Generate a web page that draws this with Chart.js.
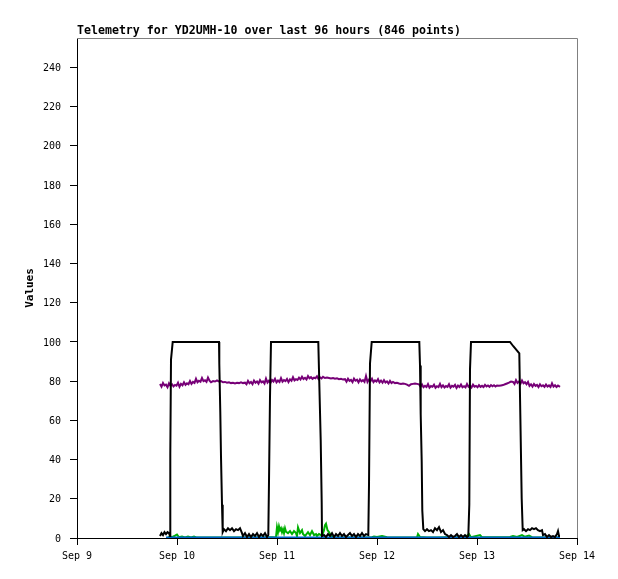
<!DOCTYPE html>
<html><head><meta charset="utf-8">
<script src="https://cdn.jsdelivr.net/npm/chart.js@4/dist/chart.umd.min.js"></script>
<style>html,body{margin:0;padding:0;background:#fff}canvas{display:block}</style>
</head><body><canvas id="c" width="618" height="579"></canvas>
<script>
// x = days since Sep 9 00:00
const xTickLabels = ['Sep 9','Sep 10','Sep 11','Sep 12','Sep 13','Sep 14'];
const xTickDays = [0,1,2,3,4,5];
const yTicks = [0,20,40,60,80,100,120,140,160,180,200,220,240];

const blackSeries = [[0.83,1],[0.845,2.5],[0.86,1.5],[0.875,3],[0.89,2],[0.905,3],[0.92,2.5],[0.93,1],[0.933,43],[0.94,91],[0.957,100],
[1.42,100],[1.423,89],[1.433,64],[1.44,41.5],[1.45,17],[1.457,3],[1.47,4.5],[1.49,3.5],[1.51,5],[1.53,4],[1.55,5],[1.57,3.5],[1.59,4.5],[1.61,4],[1.63,5],[1.65,2.5],[1.66,1],[1.68,2.5],[1.70,0.5],[1.72,2],[1.74,0.5],[1.76,2],[1.78,1],[1.80,2.5],[1.82,0.5],[1.84,2],[1.86,1],[1.88,2.5],[1.90,0.5],[1.913,1.5],[1.92,29],[1.93,72],[1.94,100],
[2.413,100],[2.423,79],[2.437,50],[2.447,18],[2.45,1],[2.47,1.5],[2.49,0.5],[2.51,2],[2.53,1],[2.55,2.5],[2.57,0.5],[2.59,2],[2.61,1],[2.63,2.5],[2.65,1],[2.67,2],[2.69,0.5],[2.71,1.5],[2.73,2.5],[2.75,1],[2.77,2],[2.79,0.5],[2.81,2],[2.83,1],[2.85,2.5],[2.87,1],[2.89,2],[2.913,1.5],[2.92,27],[2.93,89],[2.947,100],
[3.423,100],[3.43,88],[3.437,63],[3.447,39],[3.453,14],[3.463,4.5],[3.48,3.5],[3.50,4.5],[3.52,3.5],[3.54,4],[3.56,3],[3.58,5],[3.60,4],[3.62,5.5],[3.64,3],[3.66,4],[3.68,2],[3.70,1.5],[3.72,0.5],[3.74,1.5],[3.76,0.5],[3.78,1],[3.80,2],[3.82,0.5],[3.84,1.5],[3.86,0.5],[3.88,1.5],[3.90,0.5],[3.913,1],[3.923,17],[3.93,86],[3.94,100],
[4.33,100],[4.363,97.8],[4.423,94.2],[4.433,63.5],[4.447,20],[4.457,4],[4.47,4.5],[4.49,3.5],[4.51,4.5],[4.53,4],[4.55,5],[4.57,4.5],[4.59,5],[4.61,4],[4.63,3.5],[4.65,4],[4.66,1.5],[4.68,2],[4.70,0.5],[4.72,1.5],[4.74,0.5],[4.76,1],[4.78,0.5],[4.80,2],[4.81,3.5],[4.82,1],[4.83,1]];

const purpleSeries = [[0.83,78.5],[0.845,77.2],[0.86,79.1],[0.875,77.8],[0.89,78.2],[0.905,76.9],[0.92,78.9],[0.935,77.6],[0.95,78.4],[0.965,77.3],[0.98,78.1],[0.995,77.7],[1.01,79.2],[1.025,77.1],[1.04,78.6],[1.055,77.9],[1.07,79.4],[1.085,78.1],[1.10,78.9],[1.115,78.4],[1.13,80.1],[1.145,78.6],[1.16,79.6],[1.175,79.1],[1.19,81.2],[1.205,79.4],[1.22,80.2],[1.235,79.7],[1.25,81.6],[1.265,80],[1.28,80.4],[1.295,79.6],[1.31,81.8],[1.325,80.2],[1.34,79.4],[1.36,80],[1.38,79.8],[1.40,80.4],[1.42,79.8],[1.44,80],[1.46,79.4],[1.48,79.6],[1.50,79.2],[1.52,79.4],[1.54,79],[1.56,79.2],[1.58,78.8],[1.60,79.2],[1.62,79],[1.64,79.4],[1.66,79],[1.68,79.2],[1.695,78.4],[1.71,80.1],[1.725,78.9],[1.74,79.6],[1.755,78.5],[1.77,80.3],[1.785,79.2],[1.80,79.8],[1.815,78.7],[1.83,80.5],[1.845,79.4],[1.86,79.9],[1.875,78.8],[1.89,81.3],[1.905,79.3],[1.92,80.2],[1.935,79.1],[1.95,80.6],[1.965,79.8],[1.98,81.2],[1.995,79.4],[2.01,80.3],[2.025,79.6],[2.04,81.5],[2.055,79.7],[2.07,80.5],[2.085,80],[2.10,81.1],[2.115,79.5],[2.13,80.9],[2.145,80.2],[2.16,82],[2.175,80.4],[2.19,81],[2.205,80.6],[2.22,81.8],[2.235,80.9],[2.25,82.3],[2.265,81.1],[2.28,81.7],[2.295,80.9],[2.31,82.6],[2.325,81.4],[2.34,82],[2.355,81.2],[2.37,81.8],[2.385,81.5],[2.40,82.5],[2.415,81.1],[2.43,81.9],[2.445,81.4],[2.46,82.2],[2.48,81.6],[2.50,81.8],[2.52,81.6],[2.54,81.4],[2.56,81.6],[2.58,81.2],[2.60,81.4],[2.62,81],[2.64,81.2],[2.66,80.8],[2.68,81],[2.695,79.7],[2.71,81.2],[2.725,80.1],[2.74,80.6],[2.755,79.5],[2.77,81.3],[2.785,80.2],[2.80,80.7],[2.815,79.4],[2.83,80.9],[2.845,79.9],[2.86,80.5],[2.875,79.6],[2.89,82.6],[2.905,79.6],[2.92,80.8],[2.935,79.9],[2.95,81.2],[2.965,79.5],[2.98,80.4],[2.995,79.8],[3.01,81],[3.025,79.4],[3.04,80.3],[3.055,79.2],[3.07,80.5],[3.085,79.3],[3.10,79.9],[3.115,78.8],[3.13,80.1],[3.145,79],[3.16,79.6],[3.18,79],[3.20,79.2],[3.22,78.8],[3.24,78.6],[3.26,78.8],[3.28,78.6],[3.30,78.2],[3.32,77.6],[3.34,78.4],[3.36,78.6],[3.38,78.8],[3.40,78.6],[3.42,78.4],[3.435,77.2],[3.45,78.3],[3.465,76.9],[3.48,77.6],[3.495,77],[3.51,78.5],[3.525,76.7],[3.54,77.5],[3.555,77.1],[3.57,78.2],[3.585,76.6],[3.60,77.4],[3.615,77],[3.63,78.6],[3.645,76.9],[3.66,77.8],[3.675,76.8],[3.69,77.5],[3.705,77.1],[3.72,78.4],[3.735,76.7],[3.75,77.6],[3.765,77.2],[3.78,78.1],[3.795,76.5],[3.81,77.7],[3.825,77],[3.84,78.3],[3.855,76.9],[3.87,77.4],[3.885,76.8],[3.90,78.5],[3.915,77.1],[3.93,77.7],[3.945,76.8],[3.96,78.2],[3.975,77.2],[3.99,77.6],[4.005,76.9],[4.02,78],[4.035,77.1],[4.05,77.6],[4.065,77],[4.08,78.1],[4.095,77.3],[4.11,77.8],[4.125,77.1],[4.14,78],[4.155,77.4],[4.17,77.9],[4.185,77.3],[4.20,77.8],[4.22,77.6],[4.24,77.8],[4.26,78],[4.28,78.4],[4.30,78.8],[4.32,79.2],[4.34,79.8],[4.36,79.6],[4.375,78.6],[4.39,80.5],[4.405,79.1],[4.42,79.8],[4.435,78.7],[4.45,80.3],[4.465,78.9],[4.48,79.5],[4.495,78.4],[4.51,79.6],[4.525,77.6],[4.54,78.4],[4.555,77.2],[4.57,78.5],[4.585,77.6],[4.60,78.1],[4.615,77],[4.63,78.4],[4.645,77.4],[4.66,77.9],[4.675,77.1],[4.69,78.3],[4.705,77.2],[4.72,77.8],[4.735,77],[4.75,78.9],[4.765,77.2],[4.78,77.9],[4.795,77],[4.81,77.8],[4.83,77.1]];

const greenSeries = [[0.91,0.3],[0.93,0.8],[0.95,0.4],[0.98,1.2],[1.00,1.8],[1.02,0.4],[1.05,0.8],[1.08,0.3],[1.11,0.8],[1.14,0.3],[1.17,0.7],[1.20,0.2],[1.40,0.2],[1.60,0.2],[1.85,0.3],[1.95,0.4],[1.99,0.3],[2.00,5.5],[2.01,3],[2.02,6],[2.03,4],[2.04,5],[2.05,3],[2.06,4.5],[2.07,2.5],[2.08,5],[2.09,3.2],[2.11,2.5],[2.13,3.5],[2.15,2],[2.17,3.5],[2.19,2.5],[2.20,1],[2.21,5.4],[2.23,2.5],[2.25,4],[2.26,2],[2.28,1],[2.31,3],[2.33,1.5],[2.35,3.5],[2.37,1.5],[2.39,2],[2.40,1],[2.42,2],[2.44,1.5],[2.45,1],[2.47,4],[2.48,6.5],[2.49,7.3],[2.505,4],[2.52,3],[2.54,1],[2.56,0.3],[2.80,0.2],[2.95,0.4],[2.97,0.8],[3.00,0.5],[3.05,1],[3.10,0.4],[3.20,0.3],[3.40,0.4],[3.41,2],[3.43,0.5],[3.50,0.3],[3.60,0.3],[3.70,0.4],[3.88,0.3],[3.92,2],[3.94,0.4],[4.03,1.5],[4.05,0.4],[4.33,0.5],[4.36,1],[4.40,0.5],[4.45,1.5],[4.48,0.6],[4.52,1.2],[4.55,0.4],[4.70,0.3],[4.83,0.3]];

const blueSeries = [[0.89,0.3],[1.5,0.3],[2.5,0.3],[3.5,0.3],[4.5,0.3],[4.83,0.3]];

const toPts = s => s.map(p => ({x:p[0], y:p[1]}));
const mono = "'DejaVu Sans Mono', 'Liberation Mono', monospace";

const frame = {
  id:'frame',
  afterDraw(chart){
    const {ctx, chartArea:a} = chart;
    ctx.save();
    ctx.strokeStyle = '#808080';
    ctx.lineWidth = 1;
    ctx.beginPath();
    ctx.moveTo(a.left, a.top + 0.5);
    ctx.lineTo(a.right + 0.5, a.top + 0.5);
    ctx.lineTo(a.right + 0.5, a.bottom);
    ctx.stroke();
    ctx.restore();
  }
};

const ds = (label, s, color, w) => ({label, data: toPts(s), borderColor: color, backgroundColor: color, borderWidth: w, pointRadius: 0, tension: 0, fill: false});

new Chart(document.getElementById('c'), {
  type: 'line',
  data: { datasets: [
    ds('black', blackSeries, '#000000', 2),
    ds('blue', blueSeries, '#0066cc', 2),
    ds('green', greenSeries, '#00b000', 2),
    ds('purple', purpleSeries, '#770077', 2)
  ]},
  options: {
    responsive: false,
    animation: false,
    layout: { padding: { left: 0, right: 41, top: 0, bottom: 0 } },
    plugins: {
      legend: { display: false },
      tooltip: { enabled: false },
      title: {
        display: true, fullSize: false, align: 'start',
        text: 'Telemetry for YD2UMH-10 over last 96 hours (846 points)',
        color: '#000', font: { family: mono, size: 11.6, weight: 'bold', lineHeight: 1 },
        padding: { top: 25.4, bottom: 1 }
      }
    },
    scales: {
      x: {
        type: 'linear', min: 0, max: 5,
        afterFit(s){ s.height = 41; },
        afterBuildTicks(s){ s.ticks = xTickDays.map(v => ({value: v})); },
        ticks: { color: '#000', font: { family: mono, size: 10 }, padding: 5, maxRotation: 0,
          callback: (v) => xTickLabels[xTickDays.indexOf(v)] },
        grid: { drawOnChartArea: false, drawTicks: true, tickLength: 7, color: '#000' },
        border: { display: true, color: '#000', width: 1 }
      },
      y: {
        type: 'linear', min: 0, max: 255,
        afterFit(s){ s.width = 77; },
        afterBuildTicks(s){ s.ticks = yTicks.map(v => ({value: v})); },
        ticks: { color: '#000', font: { family: mono, size: 10 }, padding: 9, labelOffset: 1, callback: v => String(v) },
        grid: { drawOnChartArea: false, drawTicks: true, tickLength: 7, color: '#000' },
        border: { display: true, color: '#000', width: 1 },
        title: { display: true, text: 'Values', color: '#000', font: { family: mono, size: 11, weight: 'bold', lineHeight: 1.2 }, padding: { top: 24, bottom: 0 } }
      }
    }
  },
  plugins: [frame]
});
</script></body></html>
